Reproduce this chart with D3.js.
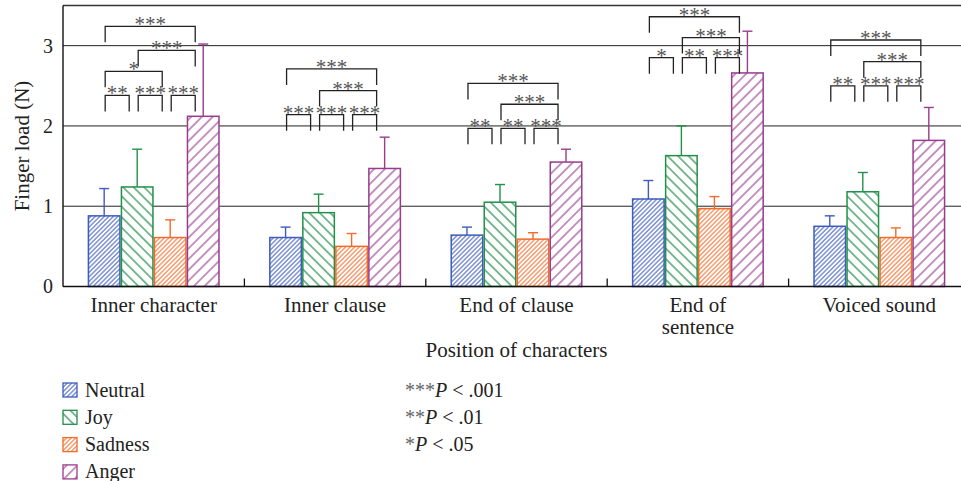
<!DOCTYPE html>
<html>
<head>
<meta charset="utf-8">
<script src="https://cdn.jsdelivr.net/npm/d3@7"></script>
<style>
  body { margin: 0; background: #fff; }
  svg { display: block; font-family: "Liberation Serif", "Times New Roman", serif; }
</style>
</head>
<body>
<div id="chart"></div>
<script>
// categories and series
const categories = ["Inner character", "Inner clause", "End of clause", "End of sentence", "Voiced sound"];
const categoryLines = [["Inner character"], ["Inner clause"], ["End of clause"], ["End of", "sentence"], ["Voiced sound"]];
const seriesNames = ["Neutral", "Joy", "Sadness", "Anger"];

// mean finger load (N)
const neutralMean = [0.88, 0.61, 0.64, 1.09, 0.75];
const joyMean = [1.24, 0.92, 1.05, 1.63, 1.18];
const sadnessMean = [0.61, 0.50, 0.59, 0.97, 0.61];
const angerMean = [2.12, 1.47, 1.55, 2.66, 1.82];

// standard deviations (error bars)
const neutralSD = [0.34, 0.13, 0.10, 0.23, 0.13];
const joySD = [0.47, 0.23, 0.22, 0.37, 0.24];
const sadnessSD = [0.22, 0.16, 0.08, 0.15, 0.12];
const angerSD = [0.90, 0.39, 0.16, 0.52, 0.41];

const yTicks = [0, 1, 2, 3];

// significance brackets: [category, from series, to series, label, height (N)]
const brackets = [
    [0, 0, 1, "**", 2.38], [0, 1, 2, "***", 2.38], [0, 2, 3, "***", 2.38],
    [0, 0, 2, "*", 2.68], [0, 1, 3, "***", 2.94], [0, 0, 3, "***", 3.24],
    [1, 0, 1, "***", 2.14], [1, 1, 2, "***", 2.14], [1, 2, 3, "***", 2.14],
    [1, 1, 3, "***", 2.44], [1, 0, 3, "***", 2.71],
    [2, 0, 1, "**", 1.97], [2, 1, 2, "**", 1.97], [2, 2, 3, "***", 1.97],
    [2, 1, 3, "***", 2.27], [2, 0, 3, "***", 2.53],
    [3, 0, 1, "*", 2.85], [3, 1, 2, "**", 2.85], [3, 2, 3, "***", 2.85],
    [3, 1, 3, "***", 3.10], [3, 0, 3, "***", 3.36],
    [4, 0, 1, "**", 2.50], [4, 1, 2, "***", 2.50], [4, 2, 3, "***", 2.50],
    [4, 1, 3, "***", 2.80], [4, 0, 3, "***", 3.07]
];

const pLegend = [["***", " < .001"], ["**", " < .01"], ["*", " < .05"]];

const colors = ["#3d5cbc", "#23904a", "#f26b2a", "#983c8e"];
const hatch = [
    { angle: 45, gap: 3.2, w: 1 },
    { angle: -45, gap: 7.4, w: 1.2 },
    { angle: 45, gap: 3.2, w: 1 },
    { angle: 45, gap: 7.6, w: 1.1 }
];

const means = [neutralMean, joyMean, sadnessMean, angerMean];
const sds = [neutralSD, joySD, sadnessSD, angerSD];

const width = 961, height = 481;
const plotLeft = 63, plotRight = 970, plotTop = 5.5, plotBottom = 286.5;

const svg = d3.select("#chart").append("svg")
    .attr("width", width)
    .attr("height", height);

// hatch patterns
const defs = svg.append("defs");
seriesNames.forEach((s, i) => {
    const h = hatch[i];
    const p = defs.append("pattern")
        .attr("id", "hatch" + i)
        .attr("patternUnits", "userSpaceOnUse")
        .attr("width", h.gap)
        .attr("height", h.gap)
        .attr("patternTransform", `rotate(${h.angle})`);
    p.append("rect").attr("width", h.gap).attr("height", h.gap).attr("fill", "#fff");
    p.append("line")
        .attr("x1", h.gap / 2).attr("x2", h.gap / 2)
        .attr("y1", 0).attr("y2", h.gap)
        .attr("stroke", colors[i])
        .attr("stroke-width", h.w);
});

const x0 = d3.scaleBand()
    .domain(categories)
    .range([plotLeft, plotRight])
    .paddingInner(0.272)
    .paddingOuter(0.136);

const x1 = d3.scaleBand()
    .domain(seriesNames)
    .range([0, x0.bandwidth()]);

const y = d3.scaleLinear()
    .domain([0, 3.5])
    .range([plotBottom, plotTop]);

// gridlines
svg.append("g")
    .selectAll("line")
    .data(yTicks.filter(d => d > 0))
    .enter().append("line")
    .attr("x1", plotLeft).attr("x2", width)
    .attr("y1", d => y(d)).attr("y2", d => y(d))
    .attr("stroke", "#222")
    .attr("stroke-width", 1);

// top frame
svg.append("line")
    .attr("x1", plotLeft).attr("x2", width)
    .attr("y1", y(3.5)).attr("y2", y(3.5))
    .attr("stroke", "#333").attr("stroke-width", 1.3);

// y axis
const yAxis = svg.append("g")
    .attr("transform", `translate(${plotLeft},0)`)
    .call(d3.axisLeft(y).tickValues(yTicks).tickSize(0).tickPadding(10).tickFormat(d3.format("d")));
yAxis.select(".domain").remove();
yAxis.selectAll("text")
    .attr("font-family", "Liberation Serif, serif")
    .attr("font-size", 20)
    .attr("fill", "#222");
svg.append("line")
    .attr("x1", plotLeft).attr("x2", plotLeft)
    .attr("y1", y(3.5)).attr("y2", y(0))
    .attr("stroke", "#111").attr("stroke-width", 1.4);

// bars
const catGroups = svg.append("g")
    .selectAll("g")
    .data(categories)
    .enter().append("g")
    .attr("transform", d => `translate(${x0(d)},0)`);

catGroups.each(function(c, ci) {
    const g = d3.select(this);
    seriesNames.forEach((s, si) => {
        const m = means[si][ci], sd = sds[si][ci];
        const cx = x1(s) + x1.bandwidth() / 2;
        g.append("line")
            .attr("x1", cx).attr("x2", cx)
            .attr("y1", y(m)).attr("y2", y(m + sd))
            .attr("stroke", colors[si]).attr("stroke-width", 1.4);
        g.append("line")
            .attr("x1", cx - 5).attr("x2", cx + 5)
            .attr("y1", y(m + sd)).attr("y2", y(m + sd))
            .attr("stroke", colors[si]).attr("stroke-width", 1.4);
        g.append("rect")
            .attr("x", x1(s) + 0.75)
            .attr("y", y(m))
            .attr("width", x1.bandwidth() - 1.5)
            .attr("height", y(0) - y(m))
            .attr("fill", `url(#hatch${si})`)
            .attr("stroke", colors[si])
            .attr("stroke-width", 1.5);
    });
});

// x axis line and inward ticks between groups
svg.append("line")
    .attr("x1", plotLeft).attr("x2", width)
    .attr("y1", y(0)).attr("y2", y(0))
    .attr("stroke", "#111").attr("stroke-width", 1.4);
svg.append("g")
    .selectAll("line")
    .data(categories.slice(0, -1))
    .enter().append("line")
    .attr("x1", d => x0(d) + x0.bandwidth() / 2 + x0.step() / 2)
    .attr("x2", d => x0(d) + x0.bandwidth() / 2 + x0.step() / 2)
    .attr("y1", y(0)).attr("y2", y(0) - 8)
    .attr("stroke", "#111").attr("stroke-width", 1.3);

// category labels
const catLabels = svg.append("g")
    .selectAll("text")
    .data(categories)
    .enter().append("text")
    .attr("x", d => x0(d) + x0.bandwidth() / 2)
    .attr("y", 312)
    .attr("text-anchor", "middle")
    .attr("font-size", 21)
    .attr("fill", "#222");
catLabels.each(function(d, i) {
    const t = d3.select(this);
    categoryLines[i].forEach((line, li) => {
        t.append("tspan")
            .attr("x", x0(d) + x0.bandwidth() / 2)
            .attr("dy", li === 0 ? 0 : 22)
            .text(line);
    });
});

// axis titles
svg.append("text")
    .attr("x", (plotLeft + plotRight) / 2)
    .attr("y", 357)
    .attr("text-anchor", "middle")
    .attr("font-size", 21)
    .attr("fill", "#222")
    .text("Position of characters");

svg.append("text")
    .attr("transform", `translate(29,${(plotTop + plotBottom) / 2}) rotate(-90)`)
    .attr("text-anchor", "middle")
    .attr("font-size", 21)
    .attr("fill", "#222")
    .text("Finger load (N)");

// significance brackets
const bg = svg.append("g");
brackets.forEach(([ci, a, b, label, h]) => {
    const base = x0(categories[ci]);
    const xa = base + x1(seriesNames[a]) + x1.bandwidth() / 2 + 1;
    const xb = base + x1(seriesNames[b]) + x1.bandwidth() / 2 - 8;
    const yt = y(h);
    bg.append("path")
        .attr("d", `M${xa},${yt + 16}V${yt}H${xb}V${yt + 16}`)
        .attr("fill", "none")
        .attr("stroke", "#222")
        .attr("stroke-width", 1.3);
    bg.append("text")
        .attr("x", (xa + xb) / 2)
        .attr("y", yt + 5)
        .attr("text-anchor", "middle")
        .attr("font-size", 21)
        .attr("fill", "#555")
        .text(label);
});

// legend
const lg = svg.append("g");
seriesNames.forEach((s, i) => {
    const ly = 390 + i * 27.3;
    lg.append("rect")
        .attr("x", 63).attr("y", ly - 7)
        .attr("width", 14).attr("height", 14)
        .attr("fill", `url(#hatch${i})`)
        .attr("stroke", colors[i])
        .attr("stroke-width", 1.3);
    lg.append("text")
        .attr("x", 85).attr("y", ly + 6.5)
        .attr("font-size", 20)
        .attr("fill", "#222")
        .text(s);
});

pLegend.forEach(([stars, rest], i) => {
    const t = lg.append("text")
        .attr("x", 405).attr("y", 396.5 + i * 27.3)
        .attr("font-size", 20)
        .attr("fill", "#222");
    t.append("tspan").attr("fill", "#666").text(stars);
    t.append("tspan").attr("font-style", "italic").text("P");
    t.append("tspan").text(rest);
});
</script>
</body>
</html>
